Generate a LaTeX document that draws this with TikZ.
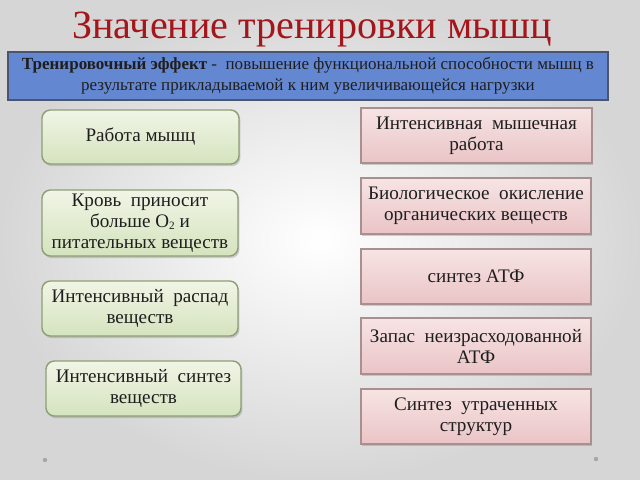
\documentclass[tikz,border=0pt]{standalone}
\usepackage{fontspec}
\setmainfont{Liberation Serif}
\usetikzlibrary{shadows}
\definecolor{titlered}{HTML}{A3161C}
\definecolor{bluefill}{HTML}{6487D2}
\definecolor{blueline}{HTML}{4A5570}
\definecolor{gtop}{HTML}{F0F5E6}
\definecolor{gbot}{HTML}{D5E3BE}
\definecolor{gline}{HTML}{8E9E76}
\definecolor{ptop}{HTML}{F7E4E4}
\definecolor{pbot}{HTML}{EAC4C6}
\definecolor{pline}{HTML}{A89090}
\definecolor{txt}{HTML}{1E1E1E}
\newcommand{\smallsub}[1]{\raisebox{-0.3ex}{\fontsize{8}{8}\selectfont #1}}
\tikzset{
  greenbox/.style={draw=gline, line width=1pt, rounded corners=6pt,
    top color=gtop, bottom color=gbot, inner sep=0pt, outer sep=0pt,
    align=center, font=\fontsize{13.6}{15}\selectfont, text=txt,
    drop shadow={opacity=0.35, shadow xshift=1pt, shadow yshift=-1.5pt}},
  pinkbox/.style={draw=pline, line width=0.8pt,
    top color=ptop, bottom color=pbot, inner sep=0pt, outer sep=0pt,
    align=center, font=\fontsize{13.6}{15}\selectfont, text=txt,
    drop shadow={opacity=0.35, shadow xshift=1pt, shadow yshift=-1.5pt}},
  bluebox/.style={draw=blueline, line width=1pt, fill=bluefill,
    inner sep=0pt, outer sep=0pt, align=center,
    font=\fontsize{12.1}{14.8}\selectfont, text=txt,
    minimum width=15cm, minimum height=1.2cm},
  dotmark/.style={fill=gray!70, draw=none}
}
\begin{document}
\begin{tikzpicture}[x=0.025cm, y=-0.025cm]
\useasboundingbox (0,0) rectangle (640,480);
\shade[inner color=white, outer color=gray!32] (0,0) rectangle (640,480);
\node[text=titlered, font=\fontsize{28.5}{32}\selectfont] (title) at (312,29) {Значение тренировки мышц};
\node[bluebox] (def) at (308,76) {\textbf{Тренировочный эффект} -\enspace повышение функциональной способности мышц в\\ результате прикладываемой к ним увеличивающейся нагрузки};
\node[greenbox, minimum width=4.925cm, minimum height=1.35cm] (g1) at (140.5,137) {Работа мышц};
\node[greenbox, minimum width=4.9cm, minimum height=1.65cm] (g2) at (140,223) {Кровь\enspace приносит\\ больше O\smallsub{2} и\\ питательных веществ};
\node[greenbox, minimum width=4.9cm, minimum height=1.375cm] (g3) at (140,308.5) {Интенсивный\enspace распад\\ веществ};
\node[greenbox, minimum width=4.875cm, minimum height=1.375cm] (g4) at (143.5,388.5) {Интенсивный\enspace синтез\\ веществ};
\node[pinkbox, minimum width=5.775cm, minimum height=1.375cm] (p1) at (476.5,135.5) {Интенсивная\enspace мышечная\\ работа};
\node[pinkbox, minimum width=5.75cm, minimum height=1.4cm] (p2) at (476,206) {Биологическое\enspace окисление\\ органических веществ};
\node[pinkbox, minimum width=5.75cm, minimum height=1.375cm] (p3) at (476,276.5) {синтез АТФ};
\node[pinkbox, minimum width=5.75cm, minimum height=1.4cm] (p4) at (476,346) {Запас\enspace неизрасходованной\\ АТФ};
\node[pinkbox, minimum width=5.75cm, minimum height=1.375cm] (p5) at (476,416.5) {Синтез\enspace утраченных\\ структур};
\fill[dotmark] (45,460) circle (2.2);
\fill[dotmark] (596,459) circle (2.2);
\end{tikzpicture}
\end{document}
